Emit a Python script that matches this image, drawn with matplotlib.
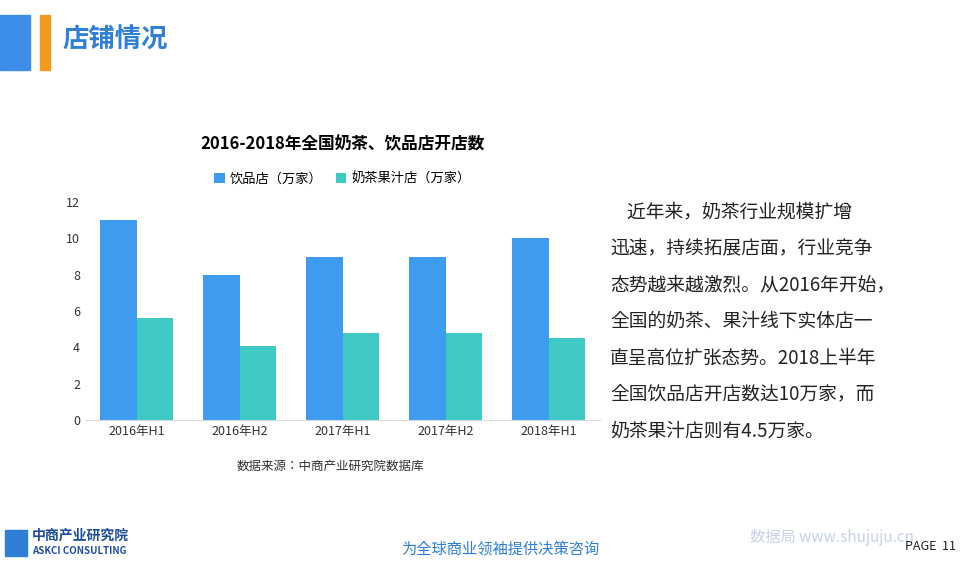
import matplotlib
matplotlib.use("Agg")
import matplotlib.pyplot as plt
import numpy as np
from matplotlib.patches import Rectangle
from matplotlib import font_manager

names = sorted({f.name for f in font_manager.fontManager.ttflist if "CJK" in f.name})
cjk = [n for n in ["Noto Sans CJK SC", "Noto Sans CJK JP", "Noto Sans CJK TC", "Noto Sans CJK KR"] if n in names] or names
plt.rcParams["font.family"] = cjk[:1] + ["DejaVu Sans"]

categories = ["2016年H1", "2016年H2", "2017年H1", "2017年H2", "2018年H1"]
drink_shops = [11, 8, 9, 9, 10]
tea_shops = [5.6, 4.1, 4.8, 4.8, 4.5]
yticks = [0, 2, 4, 6, 8, 10, 12]

fig = plt.figure(figsize=(9.76, 5.63), dpi=100)
W, H = 976, 563
def fx(x): return x / W
def fy(y): return 1 - y / H

fig.patches.append(Rectangle((0, fy(70)), fx(30), 55 / H, transform=fig.transFigure, color="#3D8EE8"))
fig.patches.append(Rectangle((fx(40), fy(70)), fx(10), 55 / H, transform=fig.transFigure, color="#F39A1E"))
fig.text(fx(62), fy(40), "店铺情况", fontsize=19, color="#2F7FD6", va="center", ha="left", fontweight="bold")

ax = fig.add_axes([fx(85), fy(420), fx(515), 218 / H])
x = np.arange(len(categories))
w = 0.35
ax.bar(x - w / 2, drink_shops, w, color="#3D9BF0", label="饮品店（万家）")
ax.bar(x + w / 2, tea_shops, w, color="#3FC9C4", label="奶茶果汁店（万家）")
ax.set_xlim(-0.5, len(categories) - 0.5)
ax.set_ylim(0, 12)
ax.set_yticks(yticks)
ax.set_xticks(x)
ax.set_xticklabels(categories)
ax.tick_params(length=0, labelsize=9, colors="#333333")
for s in ["top", "right", "left"]:
    ax.spines[s].set_visible(False)
ax.spines["bottom"].set_color("#D9D9D9")
ax.set_title("2016-2018年全国奶茶、饮品店开店数", fontsize=12, fontweight="bold", pad=38)
ax.legend(loc="lower center", bbox_to_anchor=(0.5, 1.02), ncol=2, frameon=False, fontsize=9.5,
          handlelength=0.8, handleheight=0.8, columnspacing=1.0, handletextpad=0.4)
fig.text(fx(330), fy(466), "数据来源：中商产业研究院数据库", fontsize=9, ha="center", va="center", color="#333333")

lines = ["    近年来，奶茶行业规模扩增", "迅速，持续拓展店面，行业竞争", "态势越来越激烈。从2016年开始，",
         "全国的奶茶、果汁线下实体店一", "直呈高位扩张态势。2018上半年", "全国饮品店开店数达10万家，而",
         "奶茶果汁店则有4.5万家。"]
for i, t in enumerate(lines):
    fig.text(fx(610), fy(212 + i * 36.5), t, fontsize=13.5, ha="left", va="center", color="#222222")

fig.text(fx(32), fy(536), "中商产业研究院", fontsize=10, fontweight="bold", color="#1E4E9A", va="center")
fig.text(fx(32), fy(551), "ASKCI CONSULTING", fontsize=7, fontweight="bold", color="#1E4E9A", va="center")
fig.patches.append(Rectangle((fx(5), fy(556)), fx(22), 26 / H, transform=fig.transFigure, color="#2F7FD6"))
fig.text(fx(500), fy(550), "为全球商业领袖提供决策咨询", fontsize=11, style="italic", color="#2F7FD6", ha="center", va="center")
fig.text(fx(750), fy(538), "数据局 www.shujuju.cn", fontsize=11, color="#C8D3E6", ha="left", va="center")
fig.text(fx(905), fy(547), "PAGE  11", fontsize=9, color="#222222", ha="left", va="center")

fig.savefig("out.png", dpi=100)
